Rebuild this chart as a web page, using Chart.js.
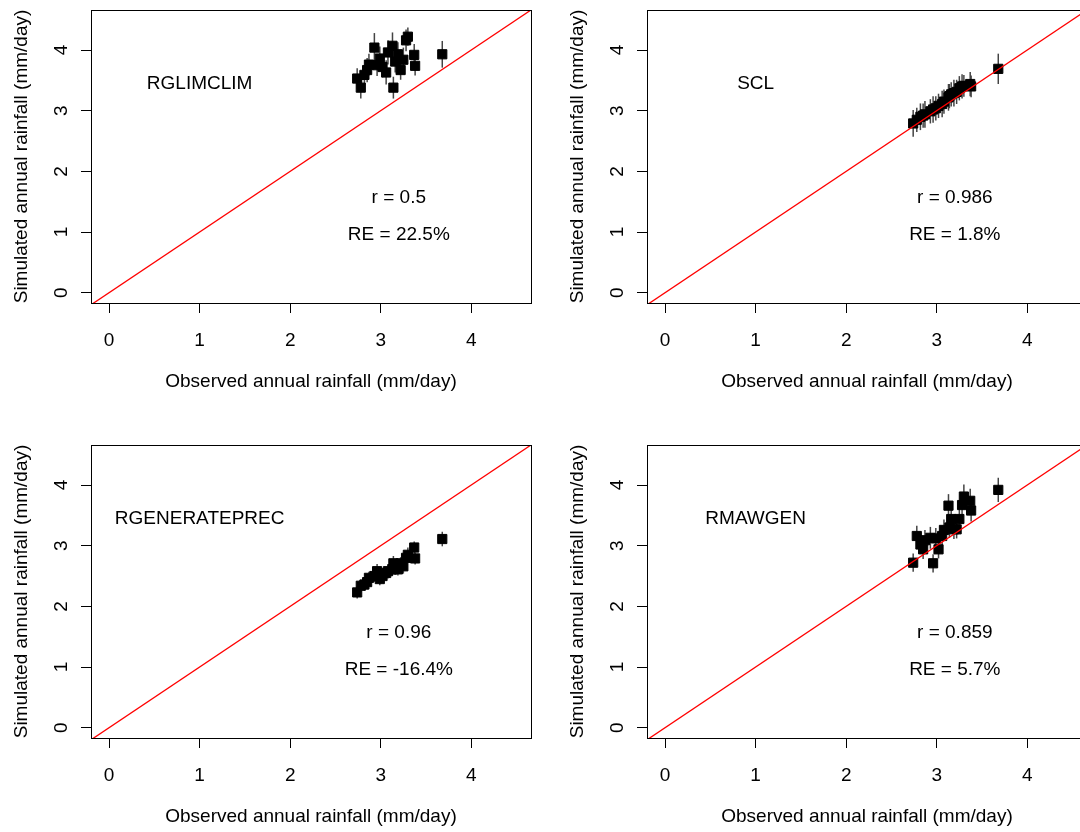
<!DOCTYPE html>
<html>
<head>
<meta charset="utf-8">
<script src="https://cdn.jsdelivr.net/npm/chart.js@4/dist/chart.umd.min.js"></script>
<style>
  html, body { margin: 0; padding: 0; background: #fff; overflow: hidden; }
  body { width: 1080px; height: 832px; position: relative; }
  canvas { position: absolute; }
</style>
</head>
<body>
<canvas id="p1" width="540" height="416" style="left:0px;top:0px"></canvas>
<canvas id="p2" width="540" height="416" style="left:556px;top:0px"></canvas>
<canvas id="p3" width="540" height="416" style="left:0px;top:435px"></canvas>
<canvas id="p4" width="540" height="416" style="left:556px;top:435px"></canvas>
<script>
// observed annual rainfall per station (mm/day)
const observed = [2.74, 2.78, 2.82, 2.85, 2.87, 2.93, 2.96, 2.99, 3.02, 3.06, 3.08,
                  3.13, 3.14, 3.16, 3.19, 3.22, 3.25, 3.28, 3.30, 3.37, 3.38, 3.68];

// simulated means, one list per generator
const simRglimclim = [3.53, 3.38, 3.59, 3.67, 3.76, 4.04, 3.75, 3.86, 3.72, 3.63, 3.96,
                      4.07, 3.38, 3.81, 3.93, 3.67, 3.84, 4.16, 4.22, 3.92, 3.74, 3.93];
const simScl = [2.79, 2.85, 2.90, 2.92, 2.94, 2.99, 3.02, 3.04, 3.08, 3.11, 3.15,
                3.22, 3.24, 3.27, 3.29, 3.31, 3.37, 3.40, 3.41, 3.44, 3.40, 3.69];
const simRgenerateprec = [2.23, 2.34, 2.36, 2.40, 2.47, 2.50, 2.58, 2.45, 2.50, 2.55, 2.58,
                          2.61, 2.71, 2.62, 2.61, 2.71, 2.66, 2.80, 2.85, 2.97, 2.79, 3.11];
const simRmawgen = [2.72, 3.16, 3.02, 2.94, 3.09, 3.13, 2.71, 3.12, 2.94, 3.16, 3.26,
                    3.66, 3.30, 3.44, 3.27, 3.27, 3.44, 3.67, 3.81, 3.74, 3.58, 3.92];

// half length of the vertical bars
const errRglimclim = [0.17, 0.18, 0.16, 0.20, 0.18, 0.24, 0.18, 0.20, 0.17, 0.20, 0.20,
                      0.22, 0.18, 0.18, 0.20, 0.16, 0.20, 0.18, 0.15, 0.18, 0.16, 0.22];
const errScl = [0.22, 0.20, 0.22, 0.20, 0.22, 0.20, 0.22, 0.20, 0.20, 0.22, 0.20,
                0.22, 0.20, 0.20, 0.22, 0.20, 0.20, 0.20, 0.18, 0.20, 0.18, 0.25];
const errRgenerateprec = [0.10, 0.10, 0.10, 0.12, 0.10, 0.10, 0.12, 0.10, 0.10, 0.10, 0.12,
                          0.10, 0.12, 0.10, 0.10, 0.10, 0.12, 0.10, 0.12, 0.10, 0.10, 0.12];
const errRmawgen = [0.15, 0.17, 0.15, 0.16, 0.17, 0.18, 0.15, 0.17, 0.15, 0.17, 0.17,
                    0.19, 0.17, 0.17, 0.16, 0.15, 0.17, 0.17, 0.20, 0.20, 0.18, 0.20];

const tickValues = [0, 1, 2, 3, 4];
const identityLine = [-1, 6];

const FONT = "'Liberation Sans', Arial, sans-serif";

// vertical bars + box + texts
const panelPlugin = {
  id: 'panel',
  beforeDatasetsDraw(chart) {
    const { ctx, scales: { x, y } } = chart;
    ctx.save();
    ctx.strokeStyle = '#444';
    ctx.lineWidth = 1.5;
    chart.data.datasets.forEach(ds => {
      if (!ds.errors) return;
      ds.data.forEach((p, i) => {
        const px = x.getPixelForValue(p.x);
        ctx.beginPath();
        ctx.moveTo(px, y.getPixelForValue(p.y - ds.errors[i]));
        ctx.lineTo(px, y.getPixelForValue(p.y + ds.errors[i]));
        ctx.stroke();
      });
    });
    ctx.restore();
  },
  afterDraw(chart, args, opts) {
    const { ctx, chartArea: a, scales: { x, y } } = chart;
    ctx.save();
    ctx.strokeStyle = '#000';
    ctx.lineWidth = 1;
    ctx.strokeRect(Math.round(a.left) + 0.5, Math.round(a.top) + 0.5,
                   Math.round(a.right - a.left), Math.round(a.bottom - a.top));
    ctx.fillStyle = '#000';
    ctx.font = '19px ' + FONT;
    ctx.textAlign = 'center';
    ctx.textBaseline = 'middle';
    opts.texts.forEach(t => {
      ctx.fillText(t.text, x.getPixelForValue(t.at[0]), y.getPixelForValue(t.at[1]));
    });
    ctx.restore();
  }
};

function makePanel(id, name, sim, err, r, re) {
  const pts = observed.map((v, i) => ({ x: v, y: sim[i] }));
  const axisCommon = {
    type: 'linear',
    afterBuildTicks: s => { s.ticks = tickValues.map(v => ({ value: v })); },
    border: { display: true, color: '#000', width: 1 },
    grid: { display: true, drawOnChartArea: false, drawTicks: true, tickLength: 10, color: '#000', lineWidth: 1 },
  };
  return new Chart(document.getElementById(id), {
    type: 'scatter',
    data: {
      datasets: [
        {
          type: 'line',
          data: identityLine.map(v => ({ x: v, y: v })),
          borderColor: '#ff0000',
          borderWidth: 1.3,
          pointRadius: 0,
          clip: 0
        },
        {
          data: pts,
          errors: err,
          pointStyle: 'rect',
          pointRadius: 6.5,
          pointBorderWidth: 1,
          backgroundColor: '#000',
          borderColor: '#000'
        }
      ]
    },
    options: {
      responsive: false,
      devicePixelRatio: 1,
      animation: false,
      events: [],
      layout: { padding: { top: 10, right: 9, left: 0, bottom: 0 } },
      plugins: {
        legend: { display: false },
        tooltip: { enabled: false },
        panel: {
          texts: [
            { text: name, at: [1.0, 3.45] },
            { text: 'r = ' + r, at: [3.2, 1.57] },
            { text: 'RE = ' + re, at: [3.2, 0.96] }
          ]
        }
      },
      scales: {
        x: {
          ...axisCommon,
          min: -0.2,
          max: 4.66,
          position: 'bottom',
          afterFit: s => { s.height = 113; s.paddingLeft = 0; s.paddingRight = 0; },
          ticks: { color: '#000', font: { family: FONT, size: 19 }, padding: 16, autoSkip: false, maxRotation: 0 },
          title: { display: true, text: 'Observed annual rainfall (mm/day)', color: '#000',
                   font: { family: FONT, size: 19 }, padding: { top: 0, bottom: 22.6 } }
        },
        y: {
          ...axisCommon,
          min: -0.17,
          max: 4.66,
          position: 'left',
          afterFit: s => { s.width = 91; s.paddingTop = 0; s.paddingBottom = 0; },
          ticks: { color: '#000', font: { family: FONT, size: 19 }, padding: 13.7, autoSkip: false,
                   minRotation: 90, maxRotation: 90, crossAlign: 'center' },
          title: { display: true, text: 'Simulated annual rainfall (mm/day)', color: '#000',
                   font: { family: FONT, size: 19 }, padding: { top: 10.6, bottom: 0 } }
        }
      }
    },
    plugins: [panelPlugin]
  });
}

makePanel('p1', 'RGLIMCLIM', simRglimclim, errRglimclim, '0.5', '22.5%');
makePanel('p2', 'SCL', simScl, errScl, '0.986', '1.8%');
makePanel('p3', 'RGENERATEPREC', simRgenerateprec, errRgenerateprec, '0.96', '-16.4%');
makePanel('p4', 'RMAWGEN', simRmawgen, errRmawgen, '0.859', '5.7%');
</script>
</body>
</html>
